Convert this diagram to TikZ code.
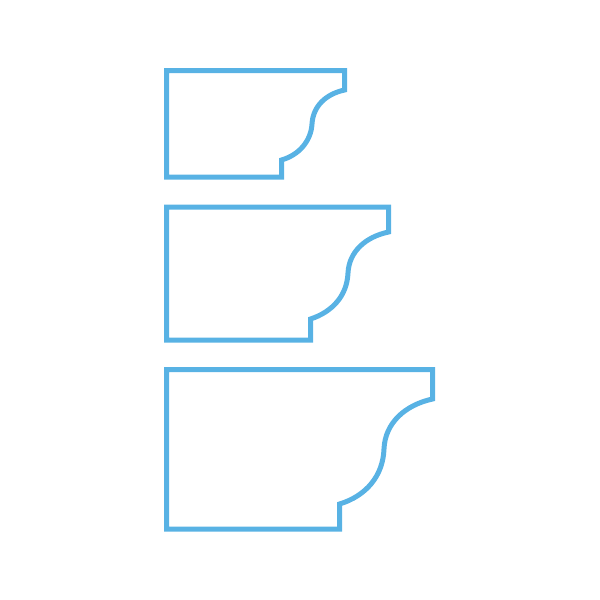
\documentclass[tikz,border=0pt]{standalone}
\usepackage{tikz}
\definecolor{gutterblue}{RGB}{88,178,228}
\tikzset{profile/.style={draw=gutterblue,line width=5pt,miter limit=10}}
\begin{document}
\begin{tikzpicture}[x=1pt,y=-1pt]
\useasboundingbox (0,0) rectangle (600,600);

% Small profile
\draw[profile] (166.5,70.5) -- (344.5,70.5) -- (344.5,90)
  .. controls (326,94) and (313,106) .. (312,124)
  .. controls (311,141) and (299,155) .. (281.5,160)
  -- (281.5,177) -- (166.5,177) -- cycle;

% Medium profile
\draw[profile] (166.5,207) -- (388.5,207) -- (388.5,232)
  .. controls (365,237) and (349,252) .. (348,273)
  .. controls (347,296) and (332,312) .. (310.5,319)
  -- (310.5,340) -- (166.5,340) -- cycle;

% Large profile
\draw[profile] (166.5,369.5) -- (432.5,369.5) -- (432.5,399)
  .. controls (405,405) and (385,423) .. (384,449)
  .. controls (383,476) and (366,496) .. (339.5,504)
  -- (339.5,529) -- (166.5,529) -- cycle;

\end{tikzpicture}
\end{document}
